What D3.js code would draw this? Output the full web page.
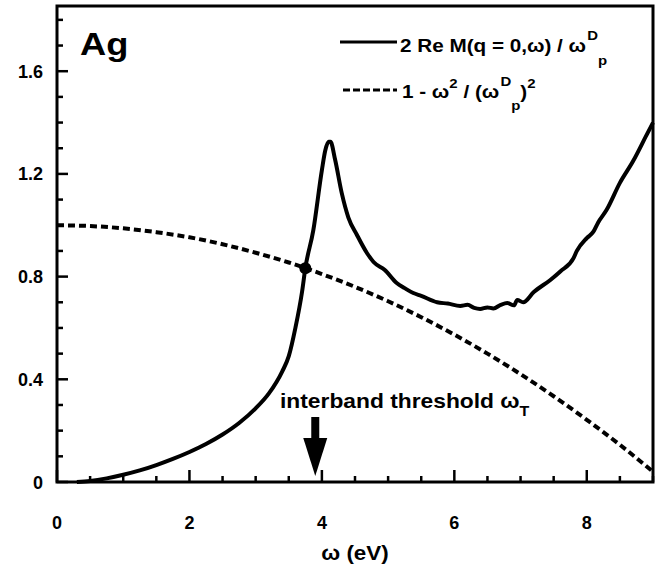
<!DOCTYPE html>
<html>
<head>
<meta charset="utf-8">
<script src="https://cdn.jsdelivr.net/npm/d3@7"></script>
<style>
  html, body { margin: 0; padding: 0; background: #fff; }
  svg { display: block; }
  text { font-family: "Liberation Sans", Arial, Helvetica, sans-serif; font-weight: bold; fill: #000; }
</style>
</head>
<body>
<svg id="chart" width="663" height="568"></svg>
<script>
// ---- data ----
const omegaSolid = [0.3, 0.5, 0.75, 1.0, 1.25, 1.5, 1.75, 2.0, 2.25, 2.5, 2.75, 3.0, 3.2, 3.4, 3.5, 3.6, 3.7, 3.75, 3.87, 4.0, 4.05, 4.1, 4.13, 4.2, 4.3, 4.4, 4.53, 4.68, 4.78, 4.95, 5.13, 5.25, 5.38, 5.5, 5.74, 5.9, 6.09, 6.2, 6.3, 6.39, 6.5, 6.59, 6.7, 6.8, 6.9, 6.95, 7.04, 7.2, 7.45, 7.6, 7.8, 7.85, 8.0, 8.1, 8.17, 8.3, 8.5, 8.7, 8.9, 9.0];
const reM = [0.0, 0.004, 0.014, 0.028, 0.045, 0.066, 0.09, 0.117, 0.148, 0.185, 0.23, 0.287, 0.345, 0.43, 0.49, 0.6, 0.74, 0.833, 0.98, 1.215, 1.29, 1.325, 1.325, 1.255, 1.125, 1.03, 0.962, 0.892, 0.857, 0.826, 0.775, 0.755, 0.736, 0.725, 0.70, 0.695, 0.686, 0.69, 0.678, 0.674, 0.68, 0.676, 0.69, 0.697, 0.688, 0.709, 0.70, 0.74, 0.787, 0.82, 0.872, 0.90, 0.95, 0.975, 1.01, 1.06, 1.165, 1.25, 1.35, 1.40];
const omegaDashed = [0.0, 0.5, 1.0, 1.5, 2.0, 2.5, 3.0, 3.5, 4.0, 4.5, 5.0, 5.5, 6.0, 6.5, 7.0, 7.5, 8.0, 8.5, 9.0];
const drude = [1.0, 0.997, 0.988, 0.973, 0.953, 0.926, 0.893, 0.855, 0.810, 0.760, 0.704, 0.642, 0.574, 0.500, 0.420, 0.334, 0.242, 0.145, 0.04];
const crossing = [3.75, 0.833];
const omegaT = 3.9;
const xTicks = [0, 2, 4, 6, 8];
const yTicks = [0, 0.4, 0.8, 1.2, 1.6];

// ---- layout ----
const svg = d3.select("#chart");
const pL = 57, pR = 653, pT = 6, pB = 482;
const x = d3.scaleLinear().domain([0, 9]).range([pL, pR]);
const y = d3.scaleLinear().domain([0, 1.854]).range([pB, pT]);

// minor ticks
const xMinor = d3.range(0, 9.01, 0.5).filter(v => !xTicks.includes(v));
const yMinor = d3.range(0, 1.86, 0.1).map(v => +v.toFixed(1)).filter(v => !yTicks.includes(v));

const g = svg.append("g");

// ticks (inward)
g.selectAll(".xmaj").data(xTicks).enter().append("line").attr("class", "xmaj")
  .attr("x1", d => x(d)).attr("x2", d => x(d))
  .attr("y1", pB).attr("y2", pB - 12)
  .attr("stroke", "#000").attr("stroke-width", 2.5);
g.selectAll(".xmin").data(xMinor).enter().append("line").attr("class", "xmin")
  .attr("x1", d => x(d)).attr("x2", d => x(d))
  .attr("y1", pB).attr("y2", pB - 6)
  .attr("stroke", "#000").attr("stroke-width", 2.5);
g.selectAll(".ymaj").data(yTicks).enter().append("line").attr("class", "ymaj")
  .attr("x1", pL).attr("x2", pL + 11)
  .attr("y1", d => y(d)).attr("y2", d => y(d))
  .attr("stroke", "#000").attr("stroke-width", 2.5);
g.selectAll(".ymin").data(yMinor).enter().append("line").attr("class", "ymin")
  .attr("x1", pL).attr("x2", pL + 6)
  .attr("y1", d => y(d)).attr("y2", d => y(d))
  .attr("stroke", "#000").attr("stroke-width", 2.5);

// tick labels
g.selectAll(".xl").data(xTicks).enter().append("text").attr("class", "xl")
  .attr("x", d => x(d)).attr("y", 529)
  .attr("text-anchor", "middle").attr("font-size", 18)
  .text(d => d3.format("")(d));
g.selectAll(".yl").data(yTicks).enter().append("text").attr("class", "yl")
  .attr("x", 43).attr("y", d => y(d) + 6.5)
  .attr("text-anchor", "end").attr("font-size", 18)
  .text(d => d === 0 ? "0" : d3.format(".1f")(d));

// helper: horizontally widened text (reference glyphs are wider than Arial)
function wideText(px, py, size, sx) {
  return svg.append("text")
    .attr("transform", `translate(${px},${py}) scale(${sx},1)`)
    .attr("font-size", size);
}

// axis title
wideText(355, 560, 20, 1.12).attr("text-anchor", "middle").text("ω (eV)");

// curves
const solidData = omegaSolid.map((w, i) => [w, reM[i]]);
const dashedData = omegaDashed.map((w, i) => [w, drude[i]]);
const line = d3.line().x(d => x(d[0])).y(d => y(d[1])).curve(d3.curveMonotoneX);

svg.append("path").datum(dashedData).attr("d", line)
  .attr("fill", "none").attr("stroke", "#000").attr("stroke-width", 4)
  .attr("stroke-dasharray", "7,4");
svg.append("path").datum(solidData).attr("d", line)
  .attr("fill", "none").attr("stroke", "#000").attr("stroke-width", 4)
  .attr("stroke-linejoin", "round");
svg.append("circle").attr("cx", x(crossing[0])).attr("cy", y(crossing[1]))
  .attr("r", 6).attr("fill", "#000");

// frame
svg.append("rect").attr("x", pL).attr("y", pT)
  .attr("width", pR - pL).attr("height", pB - pT)
  .attr("fill", "none").attr("stroke", "#000").attr("stroke-width", 3);

// "Ag"
wideText(80, 55, 31, 1.17).text("Ag");

// legend
svg.append("line").attr("x1", 340).attr("x2", 397).attr("y1", 42).attr("y2", 42)
  .attr("stroke", "#000").attr("stroke-width", 3);
svg.append("line").attr("x1", 343).attr("x2", 397).attr("y1", 90).attr("y2", 90)
  .attr("stroke", "#000").attr("stroke-width", 3).attr("stroke-dasharray", "7,3");

const t1 = wideText(400, 52, 18, 1.15);
t1.append("tspan").text("2 Re M(q = 0,ω) / ω");
t1.append("tspan").attr("dy", -12).attr("dx", 1).attr("font-size", 13).text("D");
t1.append("tspan").attr("dy", 25).attr("font-size", 13).text("p");

const t2 = wideText(402, 98, 18, 1.15);
t2.append("tspan").text("1 - ω");
t2.append("tspan").attr("dy", -10).attr("font-size", 13).text("2");
t2.append("tspan").attr("dy", 10).text(" / (ω");
t2.append("tspan").attr("dy", -12).attr("dx", 1).attr("font-size", 13).text("D");
t2.append("tspan").attr("dy", 24).attr("font-size", 13).text("p");
t2.append("tspan").attr("dy", -12).text(")");
t2.append("tspan").attr("dy", -10).attr("font-size", 13).text("2");

// interband threshold annotation
const t3 = wideText(280, 408, 20, 1.14);
t3.append("tspan").text("interband threshold ω");
t3.append("tspan").attr("dy", 8).attr("font-size", 14).text("T");

// arrow
const ax = x(omegaT);
svg.append("rect").attr("x", ax - 4).attr("y", 417).attr("width", 8).attr("height", 23).attr("fill", "#000");
svg.append("path")
  .attr("d", `M${ax - 12},438 L${ax + 12},438 L${ax},476 Z`)
  .attr("fill", "#000");
</script>
</body>
</html>
